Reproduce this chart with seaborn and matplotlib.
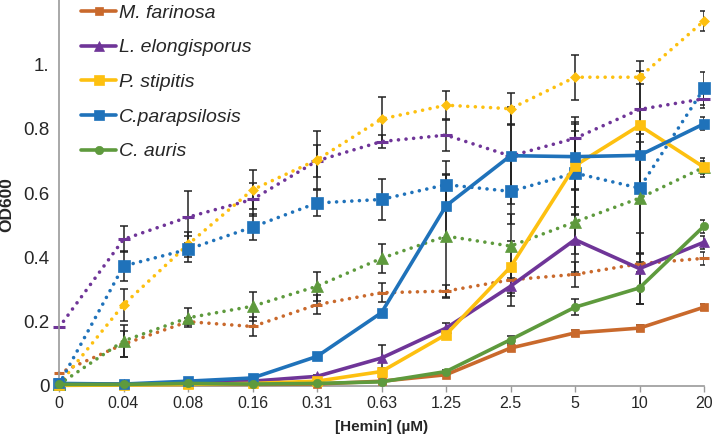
import numpy as np
import pandas as pd
import matplotlib
matplotlib.use("Agg")
import matplotlib.pyplot as plt
import seaborn as sns

# ---------------- data ----------------
conc = ["0", "0.04", "0.08", "0.16", "0.31", "0.63", "1.25", "2.5", "5", "10", "20"]

strains = ["M. farinosa", "L. elongisporus", "P. stipitis", "C.parapsilosis", "C. auris"]

# solid lines
mf = [0.005, 0.005, 0.005, 0.005, 0.006, 0.015, 0.035, 0.118, 0.165, 0.18, 0.245]
le = [0.005, 0.005, 0.010, 0.015, 0.030, 0.087, 0.180, 0.310, 0.455, 0.365, 0.447]
ps = [0.002, 0.003, 0.005, 0.008, 0.015, 0.045, 0.160, 0.370, 0.685, 0.810, 0.680]
cp = [0.008, 0.006, 0.015, 0.025, 0.092, 0.228, 0.560, 0.716, 0.713, 0.717, 0.815]
ca = [0.005, 0.005, 0.008, 0.006, 0.008, 0.013, 0.045, 0.144, 0.245, 0.305, 0.497]

# dotted lines
mf_d = [0.040, 0.130, 0.200, 0.185, 0.253, 0.290, 0.295, 0.330, 0.347, 0.380, 0.397]
le_d = [0.182, 0.456, 0.525, 0.580, 0.700, 0.760, 0.780, 0.715, 0.770, 0.860, 0.893]
ps_d = [0.005, 0.253, 0.440, 0.610, 0.703, 0.830, 0.873, 0.862, 0.960, 0.960, 1.135]
cp_d = [0.005, 0.373, 0.425, 0.494, 0.569, 0.580, 0.626, 0.605, 0.662, 0.615, 0.925]
ca_d = [0.005, 0.140, 0.212, 0.248, 0.310, 0.397, 0.466, 0.435, 0.510, 0.584, 0.680]

# error bars (+/-)
mf_e = [0, 0, 0, 0, 0, 0, 0.005, 0.010, 0.010, 0.010, 0.010]
le_e = [0, 0, 0, 0, 0.005, 0.040, 0.015, 0.060, 0.100, 0.110, 0.020]
ps_e = [0, 0, 0, 0, 0, 0.010, 0.015, 0.080, 0.150, 0.200, 0.020]
cp_e = [0, 0, 0, 0, 0.010, 0.005, 0.100, 0.150, 0.100, 0.100, 0.020]
ca_e = [0, 0, 0, 0, 0, 0, 0.005, 0.010, 0.025, 0.050, 0.020]

mf_de = [0, 0.040, 0.010, 0.030, 0.030, 0.030, 0.020, 0.050, 0.040, 0.030, 0.020]
le_de = [0, 0.040, 0.080, 0.050, 0.050, 0.020, 0.050, 0.100, 0.050, 0.100, 0.030]
ps_de = [0, 0.050, 0.040, 0.060, 0.090, 0.070, 0.045, 0.050, 0.070, 0.020, 0.030]
cp_de = [0, 0.047, 0.040, 0.040, 0.040, 0.065, 0.075, 0.100, 0.130, 0.200, 0.050]
ca_de = [0, 0.050, 0.030, 0.045, 0.045, 0.045, 0.190, 0.100, 0.100, 0.200, 0.030]

colors = ["#C9692C", "#6F3598", "#FDC010", "#1F72BA", "#5E9A3D"]

solid = [mf, le, ps, cp, ca]
solid_e = [mf_e, le_e, ps_e, cp_e, ca_e]
dotted = [mf_d, le_d, ps_d, cp_d, ca_d]
dotted_e = [mf_de, le_de, ps_de, cp_de, ca_de]

solid_mk = [("s", 5.5), ("^", 6.5), ("s", 6.5), ("s", 6.5), ("o", 6)]
dotted_mk = [("_", 7), ("_", 8), ("D", 5), ("s", 8.5), ("^", 8.5)]

# ---------------- figure ----------------
sns.set_style("white")
plt.rcParams["font.family"] = ["Liberation Sans", "DejaVu Sans"]

fig = plt.figure(figsize=(7.14, 4.34), dpi=100)
ax = fig.add_axes([59 / 714, 1 - 386 / 434, (704 - 59) / 714, 386 / 434])

pos = np.arange(len(conc))

# error bars
for vals, errs in list(zip(dotted, dotted_e)) + list(zip(solid, solid_e)):
    v = np.array(vals)
    e = np.array(errs)
    m = e > 0
    ax.errorbar(pos[m], v[m], yerr=e[m], fmt="none", ecolor="#222222",
                elinewidth=1.1, capsize=3, capthick=1.1, zorder=1.5)

# dotted series
for vals, c, (mk, ms) in zip(dotted, colors, dotted_mk):
    df = pd.DataFrame({"pos": pos, "od": vals})
    sns.lineplot(data=df, x="pos", y="od", ax=ax, color=c, linewidth=2.6,
                 marker=mk, markersize=ms, markeredgecolor=c,
                 markeredgewidth=(2.2 if mk == "_" else 0.5),
                 clip_on=False, zorder=2)
    ln = ax.get_lines()[-1]
    ln.set_dashes((0.01, 2.1))
    ln.set_dash_capstyle("round")

# solid series
for vals, c, (mk, ms), name in zip(solid, colors, solid_mk, strains):
    df = pd.DataFrame({"pos": pos, "od": vals})
    sns.lineplot(data=df, x="pos", y="od", ax=ax, color=c, linewidth=2.6,
                 marker=mk, markersize=ms, markeredgecolor=c,
                 markeredgewidth=0.5, clip_on=False, zorder=3, label=name)

ax.set_xlim(0, len(conc) - 1)
ax.set_ylim(0, 1.2)
ax.set_xticks(pos)
ax.set_xticklabels(conc)
ax.set_yticks([0, 0.2, 0.4, 0.6, 0.8, 1.0])
ax.set_yticklabels(["0", "0.2", "0.4", "0.6", "0.8", "1."])

for s in ["top", "right"]:
    ax.spines[s].set_visible(False)
for s in ["left", "bottom"]:
    ax.spines[s].set_color("#9A9A9A")
    ax.spines[s].set_linewidth(1.2)

ax.tick_params(axis="x", which="both", direction="out", length=4, width=1,
               color="#9A9A9A", labelsize=11.5, pad=3, bottom=True)
ax.tick_params(axis="y", length=0, labelsize=13.5, pad=7, left=False)

ax.set_xlabel("[Hemin] (µM)", fontsize=11, fontweight="bold", labelpad=7)
ax.set_ylabel("OD600", fontsize=12.5, fontweight="bold")
ax.yaxis.set_label_coords(-0.07, 0.47)

leg = ax.legend(loc="upper left", bbox_to_anchor=(81 / 714, 1 - 4 / 434),
                bbox_transform=fig.transFigure, frameon=False,
                prop={"style": "italic", "size": 14}, handlelength=1.8,
                handletextpad=0.15, labelspacing=0.88, borderpad=0,
                borderaxespad=0)

fig.savefig("out.png", dpi=100)
